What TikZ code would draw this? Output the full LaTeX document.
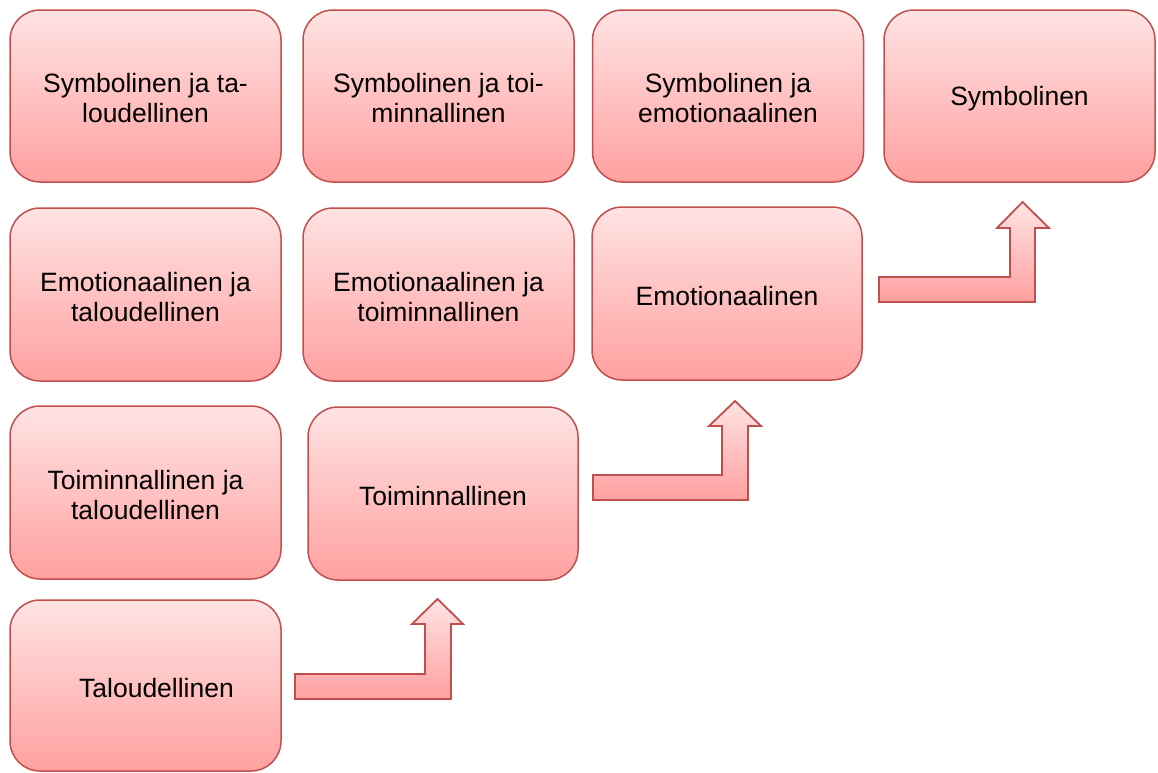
\documentclass[tikz,border=0pt]{standalone}
\usepackage{fontspec}
\setmainfont{Liberation Sans}
\definecolor{boxedge}{RGB}{192,80,77}
\definecolor{boxtop}{RGB}{255,227,227}
\definecolor{boxbot}{RGB}{255,160,160}
\begin{document}
\begin{tikzpicture}[x=1pt,y=-1pt,
  stage/.style={draw=boxedge, line width=1.5pt, rounded corners=30pt,
    top color=boxtop, bottom color=boxbot,
    minimum width=271pt, minimum height=172pt, inner sep=0pt},
  stagetext/.style={label={[align=center, yshift=-2.5pt,
    font=\fontsize{26.5}{30}\selectfont]center:{#1}}},
  bentarrow/.style={draw=boxedge, line width=1.8pt, line join=miter,
    top color=boxtop, bottom color=boxbot}]
\useasboundingbox (0,0) rectangle (1158,772);

% first row
\node[stage, stagetext={Symbolinen ja ta-\\loudellinen}] (symtal) at (145.5,96) {};
\node[stage, stagetext={Symbolinen ja toi-\\minnallinen}] (symtoi) at (438.5,96) {};
\node[stage, stagetext={Symbolinen ja\\emotionaalinen}] (symemo) at (728,96) {};
\node[stage, stagetext={Symbolinen}] (sym) at (1019.5,96) {};

% second row
\node[stage, minimum height=173pt, stagetext={Emotionaalinen ja\\taloudellinen}] (emotal) at (145.5,294.5) {};
\node[stage, minimum height=173pt, stagetext={Emotionaalinen ja\\toiminnallinen}] (emotoi) at (438.5,294.5) {};
\node[stage, minimum width=270pt, minimum height=173pt, stagetext={Emotionaalinen}] (emo) at (727,293.5) {};

% third row
\node[stage, minimum height=173pt, stagetext={Toiminnallinen ja\\taloudellinen}] (toital) at (145.5,492.5) {};
\node[stage, minimum width=270pt, minimum height=173pt, stagetext={Toiminnallinen}] (toi) at (443,493.5) {};

% fourth row
\node[stage, minimum height=171pt, stagetext={\hspace*{22pt}Taloudellinen}] (tal) at (145.5,685.5) {};

% bent-up arrows between the steps
\draw[bentarrow] (295,699) -- (295,674) -- (425,674) -- (425,624) -- (412,624)
  -- (437.5,599) -- (463,624) -- (451,624) -- (451,699) -- cycle;
\draw[bentarrow] (593,500) -- (593,475) -- (722,475) -- (722,426) -- (709,426)
  -- (735,401) -- (761,426) -- (748,426) -- (748,500) -- cycle;
\draw[bentarrow] (879,302) -- (879,277) -- (1010,277) -- (1010,228) -- (997,228)
  -- (1022.5,202) -- (1049,228) -- (1035,228) -- (1035,302) -- cycle;
\end{tikzpicture}
\end{document}
